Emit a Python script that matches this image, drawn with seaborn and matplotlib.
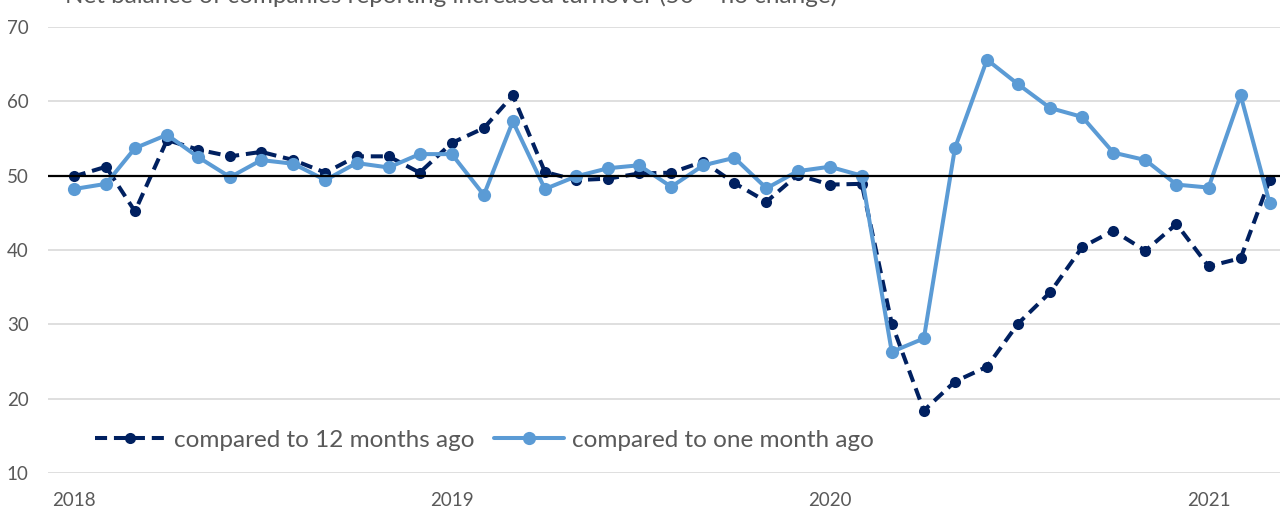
import numpy as np
import pandas as pd
import matplotlib
matplotlib.use("Agg")
import matplotlib.pyplot as plt
import matplotlib.dates as mdates
from matplotlib.lines import Line2D
import seaborn as sns

# monthly survey readings, Jan 2018 - Mar 2021
months = pd.date_range("2018-01-01", "2021-03-01", freq="MS")

vs_12_months = [49.9, 51.2, 45.2, 54.8, 53.5, 52.6, 53.2, 52.1, 50.4, 52.6, 52.6, 50.4,
                54.4, 56.4, 60.8, 50.5, 49.4, 49.6, 50.3, 50.4, 51.9, 49.0, 46.5, 50.1,
                48.8, 48.9, 30.1, 18.4, 22.3, 24.3, 30.1, 34.3, 40.4, 42.6, 39.9, 43.5,
                37.8, 38.9, 49.4]

vs_1_month = [48.2, 48.9, 53.7, 55.5, 52.5, 49.8, 52.1, 51.6, 49.4, 51.7, 51.1, 52.9,
              52.9, 47.4, 57.3, 48.2, 49.9, 51.0, 51.4, 48.5, 51.4, 52.4, 48.3, 50.6,
              51.2, 50.0, 26.3, 28.1, 53.7, 65.6, 62.3, 59.1, 57.9, 53.1, 52.1, 48.8,
              48.4, 60.8, 46.3]

series_names = ["compared to 12 months ago", "compared to one month ago"]
title = "Net balance of companies reporting increased turnover (50 = no change)"
y_ticks = [10, 20, 30, 40, 50, 60, 70]
no_change = 50

NAVY = "#002060"
LIGHT = "#5B9BD5"
GREY_TXT = "#595959"
GRID = "#D9D9D9"

sns.set_style("white")
plt.rcParams["font.family"] = ["Lato", "DejaVu Sans"]

fig = plt.figure(figsize=(12.8, 5.09), dpi=100)
ax = fig.add_axes([48 / 1280, 1 - 473 / 509, 1 - 48 / 1280, 446 / 509])

df = pd.DataFrame({"month": months, "yoy": vs_12_months, "mom": vs_1_month})

sns.lineplot(data=df, x="month", y="yoy", ax=ax, color=NAVY, lw=2.9,
             marker="o", markersize=8, markeredgewidth=0, zorder=3)
ax.lines[-1].set_dashes((3, 1.7))
sns.lineplot(data=df, x="month", y="mom", ax=ax, color=LIGHT, lw=2.9,
             marker="o", markersize=9.5, markeredgewidth=0, zorder=4)

ax.axhline(no_change, color="black", lw=1.6, zorder=5)

ax.set_ylim(min(y_ticks), max(y_ticks))
ax.set_yticks(y_ticks)
ax.set_xlim(pd.Timestamp("2017-12-07"), pd.Timestamp("2021-03-11"))
ax.xaxis.set_major_locator(mdates.YearLocator())
ax.xaxis.set_major_formatter(mdates.DateFormatter("%Y"))
ax.yaxis.grid(True, color=GRID, lw=1.2, zorder=0)
ax.set_axisbelow(True)
for s in ax.spines.values():
    s.set_visible(False)
ax.tick_params(axis="both", length=0, labelsize=13.5, colors=GREY_TXT)
ax.tick_params(axis="x", pad=14)
ax.tick_params(axis="y", pad=14)
ax.set_xlabel("")
ax.set_ylabel("")

handles = [
    Line2D([], [], color=NAVY, lw=2.9, dashes=(3, 1.7), marker="o", markersize=8, markeredgewidth=0),
    Line2D([], [], color=LIGHT, lw=2.9, marker="o", markersize=9.5, markeredgewidth=0),
]
leg = ax.legend(handles, series_names, loc="center left",
                bbox_to_anchor=((95 - 48) / 1232, (473 - 440) / 446),
                ncol=2, frameon=False, fontsize=17.5, handlelength=2.9,
                handletextpad=0.33, columnspacing=0.82, labelcolor=GREY_TXT,
                borderpad=0, borderaxespad=0)

fig.text(65 / 1280, 1 - 3 / 509, title, fontsize=17.5, color=GREY_TXT,
         ha="left", va="baseline")

fig.savefig("out.png", dpi=100)
